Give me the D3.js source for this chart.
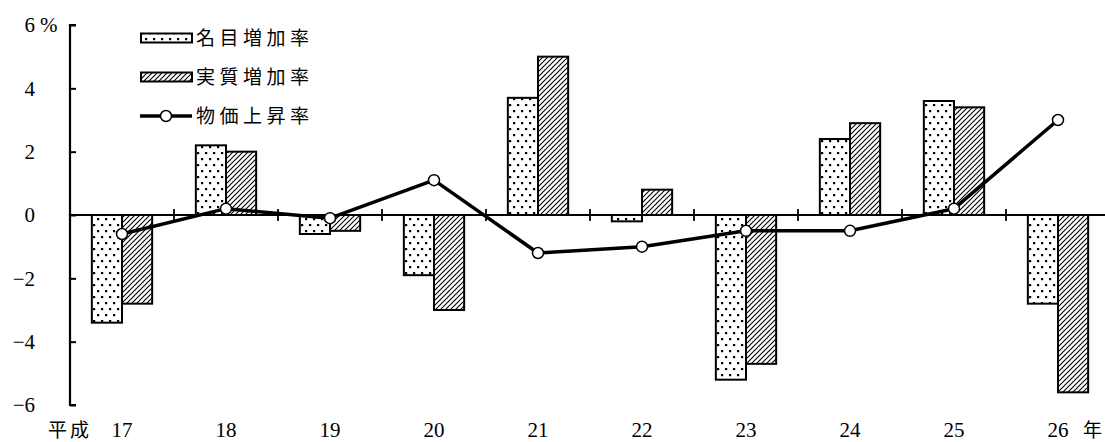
<!DOCTYPE html>
<html><head><meta charset="utf-8">
<script src="https://cdn.jsdelivr.net/npm/d3@7"></script>
<style>
html,body{margin:0;padding:0;background:#fff;}
svg{display:block;}
text.num{font-family:"Times New Roman",Times,"Liberation Serif",serif;font-size:21px;}
text.jp{font-family:"Noto Sans CJK JP",sans-serif;font-size:19px;}
</style></head>
<body>
<svg id="c" width="1105" height="442"></svg>
<script>
const categories = ["17","18","19","20","21","22","23","24","25","26"];
const nominal = [-3.4, 2.2, -0.6, -1.9, 3.7, -0.2, -5.2, 2.4, 3.6, -2.8];
const real    = [-2.8, 2.0, -0.5, -3.0, 5.0, 0.8, -4.7, 2.9, 3.4, -5.6];
const prices  = [-0.6, 0.2, -0.1, 1.1, -1.2, -1.0, -0.5, -0.5, 0.2, 3.0];
const yTicks = [-6, -4, -2, 0, 2, 4, 6];
const seriesNames = ["名目増加率", "実質増加率", "物価上昇率"];

const svg = d3.select("#c");
const defs = svg.append("defs");
const pd = defs.append("pattern").attr("id","dots").attr("patternUnits","userSpaceOnUse")
  .attr("width",8).attr("height",12);
pd.append("rect").attr("width",8).attr("height",12).attr("fill","#fff");
pd.append("rect").attr("x",1).attr("y",2).attr("width",2.2).attr("height",2.2).attr("fill","#000");
pd.append("rect").attr("x",5).attr("y",8).attr("width",2.2).attr("height",2.2).attr("fill","#000");
const ph = defs.append("pattern").attr("id","hatch").attr("patternUnits","userSpaceOnUse")
  .attr("width",5).attr("height",5);
ph.append("rect").attr("width",5).attr("height",5).attr("fill","#fff");
ph.append("path").attr("d","M-1,6 L6,-1 M-2,2 L2,-2 M3,7 L7,3").attr("stroke","#000").attr("stroke-width",1.1);

const x = d3.scaleBand().domain(categories).range([70, 1110]).padding(0);
const y = d3.scaleLinear().domain([-6, 6]).range([405, 25]);
const bw = x.bandwidth();
const barW = bw * 0.29;
const cx = c => x(c) + bw / 2;

const fills = ["url(#dots)", "url(#hatch)"];
[nominal, real].forEach((vals, si) => {
  svg.append("g").selectAll("rect").data(categories).join("rect")
    .attr("x", c => cx(c) - barW + si * barW)
    .attr("width", barW)
    .attr("y", (c, i) => y(Math.max(0, vals[i])))
    .attr("height", (c, i) => Math.abs(y(vals[i]) - y(0)))
    .attr("fill", fills[si]).attr("stroke", "#000").attr("stroke-width", 2);
});

const xa = svg.append("g");
xa.append("line").attr("x1", 70).attr("x2", 1105).attr("y1", y(0)).attr("y2", y(0))
  .attr("stroke", "#000").attr("stroke-width", 1.8);
xa.selectAll("line.t").data(categories.slice(1)).join("line").attr("class","t")
  .attr("x1", c => x(c)).attr("x2", c => x(c))
  .attr("y1", y(0) - 6).attr("y2", y(0) + 6).attr("stroke", "#000").attr("stroke-width", 1.8);

const ya = svg.append("g").attr("transform", "translate(70,0)")
  .call(d3.axisRight(y).tickValues(yTicks).tickSize(6).tickFormat(""));
ya.select(".domain").attr("stroke-width", 2.2).attr("d", `M6,${y(6)}H0V${y(-6)}H6`);
ya.selectAll(".tick line").attr("stroke-width", 2);

svg.append("g").selectAll("text").data(yTicks).join("text").attr("class", "num")
  .attr("x", 35).attr("y", d => y(d)).attr("dy", "0.35em").attr("text-anchor", "end")
  .text(d => d < 0 ? "\u2212" + Math.abs(d) : d);
svg.append("text").attr("class", "num").attr("x", 40).attr("y", y(6)).attr("dy","0.35em").text("%");

svg.append("g").selectAll("text").data(categories).join("text").attr("class", "num")
  .attr("x", c => cx(c)).attr("y", 437).attr("text-anchor", "middle").text(c => c);
svg.append("text").attr("class", "jp").attr("x", 48).attr("y", 437).attr("letter-spacing", "3px").text("平成");
svg.append("text").attr("class", "jp").attr("x", 1083).attr("y", 437).text("年");

const line = d3.line().x((d, i) => cx(categories[i])).y(d => y(d));
svg.append("path").datum(prices).attr("d", line).attr("fill", "none")
  .attr("stroke", "#000").attr("stroke-width", 3.5).attr("stroke-linejoin", "round");
svg.append("g").selectAll("circle").data(prices).join("circle")
  .attr("cx", (d, i) => cx(categories[i])).attr("cy", d => y(d)).attr("r", 5.5)
  .attr("fill", "#fff").attr("stroke", "#000").attr("stroke-width", 1.5);

const lg = svg.append("g");
const rowsY = [38, 77, 116];
[0, 1].forEach(i => {
  lg.append("rect").attr("x", 141).attr("y", rowsY[i] - 4.5).attr("width", 51).attr("height", 9)
    .attr("fill", fills[i]).attr("stroke", "#000").attr("stroke-width", 2);
});
lg.append("line").attr("x1", 140).attr("x2", 192).attr("y1", rowsY[2]).attr("y2", rowsY[2])
  .attr("stroke", "#000").attr("stroke-width", 3.5);
lg.append("circle").attr("cx", 166).attr("cy", rowsY[2]).attr("r", 5.5)
  .attr("fill", "#fff").attr("stroke", "#000").attr("stroke-width", 1.5);
seriesNames.forEach((n, i) => {
  lg.append("text").attr("class", "jp").attr("x", 196).attr("y", rowsY[i]).attr("dy", "0.36em")
    .attr("letter-spacing", "4.5px").text(n);
});
</script>
</body></html>
